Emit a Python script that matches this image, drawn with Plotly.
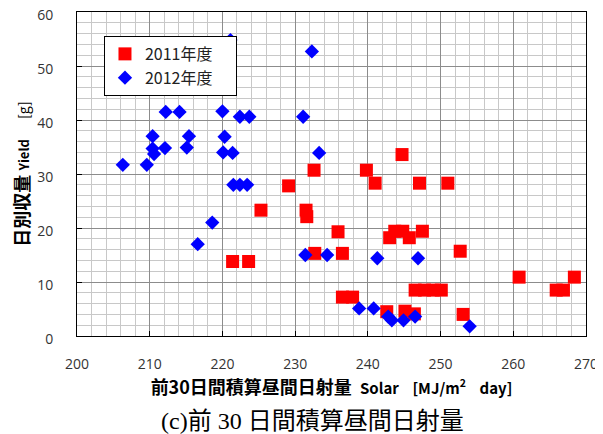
import plotly.graph_objects as go

# 2011年度
x2011 = [221.4, 223.6, 225.3, 229.1, 231.5, 231.6, 232.6, 232.7, 235.9, 236.5,
         236.5, 237.9, 239.8, 241.0, 242.6, 243.0, 243.7, 244.8, 244.7, 245.1,
         245.7, 246.4, 246.5, 247.1, 247.5, 247.8, 249.0, 250.1, 251.0, 252.7,
         253.1, 260.8, 265.9, 266.9, 268.4]
y2011 = [13.8, 13.8, 23.3, 27.8, 23.3, 22.1, 30.7, 15.3, 19.3, 15.3,
         7.2, 7.2, 30.7, 28.3, 4.5, 18.2, 19.4, 19.4, 33.6, 4.6,
         18.2, 4.1, 8.5, 28.3, 19.4, 8.5, 8.5, 8.5, 28.3, 15.7,
         4.0, 10.9, 8.5, 8.5, 10.9]

# 2012年度
x2012 = [206.3, 209.6, 210.4, 210.4, 210.6, 212.2, 212.1, 214.1, 215.1, 215.4,
         216.6, 218.6, 220.0, 220.3, 220.1, 221.4, 221.5, 222.4, 223.4, 222.4,
         223.7, 221.1, 231.1, 232.3, 233.3, 231.4, 234.4, 238.8, 240.8, 241.3,
         242.8, 243.3, 244.9, 246.5, 246.9, 254.0]
y2012 = [31.7, 31.7, 37.0, 34.7, 33.7, 41.5, 34.8, 41.5, 34.9, 37.0,
         17.0, 21.0, 41.6, 36.9, 34.0, 33.9, 28.0, 28.0, 28.0, 40.6,
         40.6, 54.8, 40.6, 52.7, 33.9, 15.0, 15.0, 5.1, 5.1, 14.4,
         3.6, 2.9, 2.9, 3.6, 14.4, 1.8]

x_range = [200, 270]
y_range = [0, 60]

NB = "\u00a0"
fig = go.Figure()
fig.add_trace(go.Scatter(
    x=x2011, y=y2011, mode="markers", name="2011年度" + NB * 5, legendgroup="a",
    marker=dict(symbol="square", size=13, color="#ff0000",
                line=dict(width=0))))
fig.add_trace(go.Scatter(
    x=x2012, y=y2012, mode="markers", name="2012年度" + NB * 5, legendgroup="b",
    marker=dict(symbol="diamond", size=11, color="#0000ff",
                line=dict(width=0))))

axis_common = dict(
    showline=True, linecolor="black", linewidth=1, mirror=True,
    ticks="inside", ticklen=5, tickcolor="black", tickwidth=1,
    showgrid=True, gridcolor="#8c8c8c", gridwidth=1,
    zeroline=False, automargin=False, ticklabeloverflow="allow",
    tickfont=dict(family="Open Sans, Noto Sans CJK JP", size=14, color="#333"),
    minor=dict(dtick=2, showgrid=True, gridcolor="#c8c8c8", gridwidth=1, ticks=""),
)

fig.update_xaxes(
    range=x_range, dtick=10, ticklabelstandoff=15, **axis_common,
    title=dict(
        text="<b>前30日間積算昼間日射量</b>" + NB * 2 +
             "<span style='font-size:15px'><b>Solar" + NB * 4 +
             "[MJ/m<sup>2</sup>" + NB * 4 + "day]</b></span>",
        font=dict(family="Noto Sans CJK JP", size=18, color="black"),
        standoff=0),
)
fig.update_yaxes(
    range=y_range, dtick=10, ticklabelstandoff=20, ticklabelshift=3, **axis_common,
    title=dict(
        text="<b>日別収量</b> <span style='font-size:13px'><b>Yield</b></span>"
             + NB * 5 + "<span style='font-size:14px'>[g]</span>",
        font=dict(family="Noto Sans CJK JP", size=18, color="black"),
        standoff=7),
)

fig.add_annotation(
    text="(c)前 30 日間積算昼間日射量", xref="paper", yref="paper",
    x=0.4617, y=-0.263, xanchor="center", yanchor="middle", showarrow=False,
    font=dict(family="Liberation Serif, Noto Sans CJK JP", size=24, color="black"))

# the page body adds an 8px margin, so the figure is 8px smaller on each side
fig.update_layout(
    width=595, height=426,
    margin=dict(l=69, r=17, t=4, b=98),
    paper_bgcolor="white", plot_bgcolor="white",
    showlegend=True,
    legend=dict(
        x=0.053, y=0.926, xanchor="left", yanchor="top",
        bgcolor="white", bordercolor="black", borderwidth=1,
        tracegroupgap=0,
        font=dict(family="Noto Sans CJK JP", size=16, color="#222"),
    ),
)

fig.write_html("out.html")
